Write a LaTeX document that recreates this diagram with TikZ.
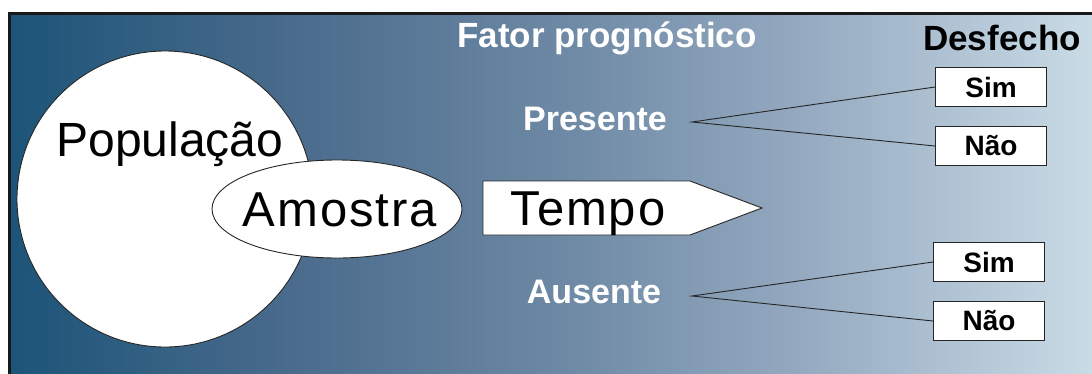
\documentclass[tikz,border=0pt]{standalone}
\usepackage{fontspec}
\setmainfont{Liberation Sans}
\newfontfamily\widefont[LetterSpace=4]{Liberation Sans}
\usetikzlibrary{shapes.geometric}
% horizontal blue-to-pale background; the path spans 25bp..75bp
\pgfdeclarehorizontalshading{panelbg}{100bp}{%
  rgb(0bp)=(0.11,0.33,0.47);
  rgb(25bp)=(0.11,0.33,0.47);
  rgb(38bp)=(0.29,0.42,0.55);
  rgb(50bp)=(0.42,0.53,0.64);
  rgb(62bp)=(0.59,0.67,0.76);
  rgb(75bp)=(0.79,0.86,0.90);
  rgb(100bp)=(0.79,0.86,0.90)}
\tikzset{
  bigtxt/.style={font=\fontsize{48}{50}\selectfont, text=black},
  widetxt/.style={font=\widefont\fontsize{49}{51}\selectfont, text=black},
  headw/.style={font=\bfseries\fontsize{35}{37}\selectfont, text=white},
  subw/.style={font=\bfseries\fontsize{34}{36}\selectfont, text=white},
  headb/.style={font=\bfseries\fontsize{35}{37}\selectfont, text=black},
  outbox/.style={draw=black!85, line width=0.9pt, fill=white,
    minimum width=111pt, minimum height=39pt, inner sep=0pt,
    font=\bfseries\fontsize{28}{30}\selectfont},
  shape outline/.style={draw=black!85, line width=0.9pt, fill=white},
  branch/.style={draw=black!85, line width=0.9pt}
}
\begin{document}
\begin{tikzpicture}[x=1pt, y=-1pt]
\useasboundingbox (0,0) rectangle (1092,373);
% panel
\shade[shading=panelbg] (9,13) rectangle (1092,376);
\draw[line width=3pt, black!90] (9,376) -- (9,13) -- (1092,13);

% population and sample
\node[shape outline, circle, minimum size=296pt, inner sep=0pt] (pop) at (165,199) {};
\node[bigtxt, anchor=base] (poptxt) at (170,156) {População};
\node[shape outline, ellipse, minimum width=250pt, minimum height=98pt, inner sep=0pt] (amo) at (337,209) {};
\node[widetxt, anchor=base] (amotxt) at (340,226) {Amostra};

% time arrow
\draw[shape outline] (483,181) -- (690,181) -- (762,208) -- (690,235) -- (483,235) -- cycle;
\node[widetxt, anchor=base] (tempo) at (588,225) {Tempo};

% headings
\node[headw, anchor=base] (fator) at (607,47) {Fator prognóstico};
\node[headb, anchor=base] (desf) at (1002,50) {Desfecho};
\node[subw, anchor=base] (pres) at (595,130) {Presente};
\node[subw, anchor=base] (aus) at (594,303) {Ausente};

% outcome boxes
\node[outbox] (sim1) at (991,87) {Sim};
\node[outbox] (nao1) at (991,146) {Não};
\node[outbox] (sim2) at (989,262) {Sim};
\node[outbox] (nao2) at (989,321) {Não};

% branches
\coordinate (pj) at (692,122);
\coordinate (aj) at (692,296);
\draw[branch] (sim1.west) -- (pj) -- (nao1.west);
\draw[branch] (sim2.west) -- (aj) -- (nao2.west);
\end{tikzpicture}
\end{document}
